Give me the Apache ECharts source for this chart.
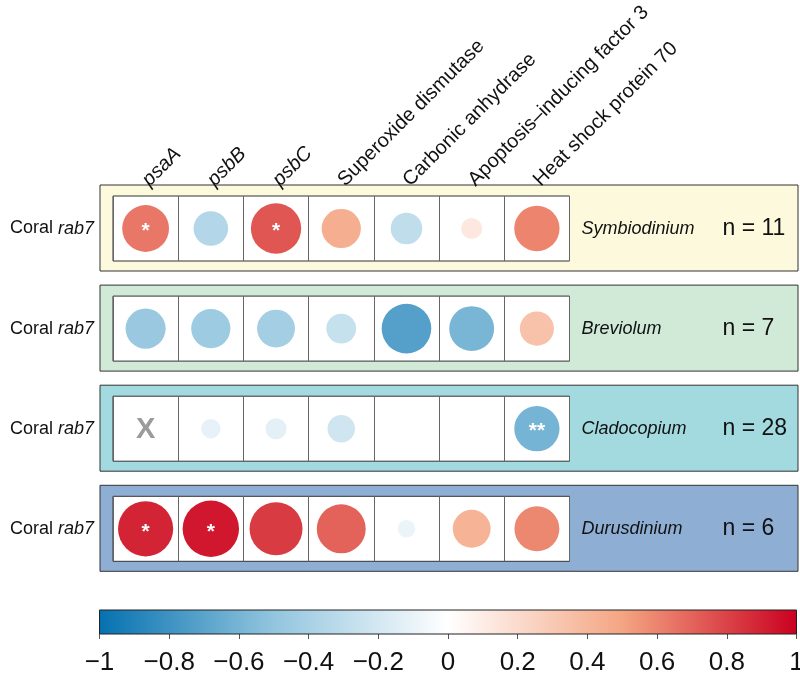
<!DOCTYPE html>
<html>
<head>
<meta charset="utf-8">
<script src="https://cdn.jsdelivr.net/npm/echarts@6/dist/echarts.min.js"></script>
<style>
html,body{margin:0;padding:0;background:#fff;}
#chart{width:800px;height:674px;}
</style>
</head>
<body>
<div id="chart"></div>
<script>
// ---------- data ----------
const genes = ['psaA', 'psbB', 'psbC', 'Superoxide dismutase', 'Carbonic anhydrase', 'Apoptosis–inducing factor 3', 'Heat shock protein 70'];
const italicGenes = ['psaA', 'psbB', 'psbC'];
const genera = ['Symbiodinium', 'Breviolum', 'Cladocopium', 'Durusdinium'];
const sampleSizes = [11, 7, 28, 6];
const rowLabel = 'rab7';
const symbiodiniumR = [0.64, -0.35, 0.74, 0.45, -0.29, 0.13, 0.60];
const breviolumR    = [-0.47, -0.45, -0.42, -0.26, -0.72, -0.59, 0.34];
const cladocopiumR  = [null, -0.11, -0.13, -0.22, -0.005, 0, -0.60];
const durusdiniumR  = [0.89, 0.93, 0.82, 0.70, -0.09, 0.42, 0.59];
const symbiodiniumSig = ['*', '', '*', '', '', '', ''];
const breviolumSig    = ['', '', '', '', '', '', ''];
const cladocopiumSig  = ['', '', '', '', '', '', '**'];
const durusdiniumSig  = ['*', '*', '', '', '', '', ''];
const colorbarTicks = [-1, -0.8, -0.6, -0.4, -0.2, 0, 0.2, 0.4, 0.6, 0.8, 1];

const panelValues = [symbiodiniumR, breviolumR, cladocopiumR, durusdiniumR];
const panelSig = [symbiodiniumSig, breviolumSig, cladocopiumSig, durusdiniumSig];

// ---------- style / layout ----------
const FONT = "'Liberation Sans', Arial, Helvetica, sans-serif";
const palette = ['#0571b0', '#92c5de', '#ffffff', '#f4a582', '#ca0020'];
const panelBg = ['#fdf9dc', '#d0ead7', '#a2dae0', '#8faed4'];
const W = 800;
const cellLeft = 113, cellRight = 569.5;
const panelTop0 = 196, panelStep = 100.1, cellH = 65;
const boxLeft = 100, boxRight = 798;

const grids = [], xAxes = [], yAxes = [], series = [], graphics = [];

panelValues.forEach((vals, p) => {
  const top = panelTop0 + p * panelStep;
  grids.push({
    left: cellLeft, right: W - cellRight, top: top, height: cellH,
    outerBoundsMode: 'none', containLabel: false,
    show: true, backgroundColor: '#ffffff', borderColor: '#333', borderWidth: 1
  });
  graphics.push({
    type: 'rect', z: -10,
    shape: { x: boxLeft, y: top - 11, width: boxRight - boxLeft, height: cellH + 21 },
    style: { fill: panelBg[p], stroke: '#333', lineWidth: 1 }
  });
  xAxes.push({
    type: 'category', gridIndex: p, data: genes, position: 'top',
    axisLine: { show: false }, axisTick: { show: false },
    splitLine: { show: true, interval: 0, lineStyle: { color: '#666', width: 1 } },
    axisLabel: p === 0 ? {
      show: true, interval: 0, rotate: -45, margin: 13, align: 'left', verticalAlign: 'middle',
      fontFamily: FONT, fontSize: 20, color: '#111',
      formatter: (v) => italicGenes.includes(v) ? '{it|' + v + '}' : v,
      rich: { it: { fontStyle: 'italic', fontFamily: FONT, fontSize: 20, color: '#111' } }
    } : { show: false }
  });
  yAxes.push({
    type: 'category', gridIndex: p, data: [rowLabel], position: 'left',
    axisLine: { show: false }, axisTick: { show: false }, splitLine: { show: false },
    axisLabel: {
      margin: 19, fontFamily: FONT, fontSize: 18, color: '#111',
      formatter: (v) => 'Coral {it|' + v + '}',
      rich: { it: { fontStyle: 'italic', fontFamily: FONT, fontSize: 18, color: '#111' } }
    }
  });
  series.push({
    type: 'custom', xAxisIndex: p, yAxisIndex: p, coordinateSystem: 'cartesian2d',
    data: vals.map((v, i) => [i, 0, v == null ? 0 : v]),
    renderItem: (params, api) => {
      const col = api.value(0);
      const v = vals[col];
      const c = api.coord([col, 0]);
      const s = api.size([1, 1]);
      const cell = Math.min(s[0], s[1]);
      const children = [];
      if (v == null) {
        children.push({ type: 'text', style: { text: 'X', x: c[0], y: c[1] + 1, fill: '#9b9b9b',
          font: 'bold 29px ' + FONT, align: 'center', verticalAlign: 'middle' } });
      } else {
        children.push({ type: 'circle', shape: { cx: c[0], cy: c[1], r: 0.45 * cell * Math.sqrt(Math.abs(v)) },
          style: { fill: api.visual('color') } });
      }
      const sg = panelSig[p][col];
      if (sg) {
        children.push({ type: 'text', style: { text: sg, x: c[0], y: c[1] + 3, fill: '#ffffff',
          font: 'bold 21px ' + FONT, align: 'center', verticalAlign: 'middle' } });
      }
      return { type: 'group', children };
    }
  });
});

// right-side labels (genus + n)
panelValues.forEach((vals, p) => {
  yAxes.push({
    type: 'category', gridIndex: p, data: [genera[p]], position: 'right',
    axisLine: { show: false }, axisTick: { show: false }, splitLine: { show: false },
    axisLabel: {
      margin: 12, align: 'left',
      formatter: (v) => '{g|' + v + '}{n|n = ' + sampleSizes[p] + '}',
      rich: {
        g: { fontStyle: 'italic', fontFamily: FONT, fontSize: 18, color: '#111', width: 141 },
        n: { fontFamily: FONT, fontSize: 23, color: '#111' }
      }
    }
  });
});

// colorbar
const cbGrid = grids.length;
grids.push({ left: 99.5, right: W - 796.5, top: 610, height: 24, outerBoundsMode: 'none', containLabel: false });
xAxes.push({
  type: 'value', gridIndex: cbGrid, min: colorbarTicks[0], max: colorbarTicks[colorbarTicks.length - 1],
  interval: 0.2, position: 'bottom',
  axisLine: { show: false },
  axisTick: { show: true, length: 5, lineStyle: { color: '#555', width: 1 } },
  splitLine: { show: false },
  axisLabel: {
    margin: 16, fontFamily: FONT, fontSize: 26, color: '#111',
    formatter: (v) => String(Math.round(v * 10) / 10).replace('-', '−')
  }
});
const cbY = yAxes.length;
yAxes.push({ type: 'value', gridIndex: cbGrid, min: 0, max: 1, show: false });
series.push({
  type: 'custom', xAxisIndex: cbGrid, yAxisIndex: cbY, coordinateSystem: 'cartesian2d',
  data: [[colorbarTicks[0], colorbarTicks[colorbarTicks.length - 1]]],
  renderItem: (params, api) => {
    const p0 = api.coord([api.value(0), 1]);
    const p1 = api.coord([api.value(1), 0]);
    return {
      type: 'rect',
      shape: { x: p0[0], y: p0[1], width: p1[0] - p0[0], height: p1[1] - p0[1] },
      style: {
        fill: new echarts.graphic.LinearGradient(0, 0, 1, 0,
          palette.map((c, i) => ({ offset: i / (palette.length - 1), color: c }))),
        stroke: '#222', lineWidth: 1
      }
    };
  }
});

const chart = echarts.init(document.getElementById('chart'), null, { renderer: 'canvas' });
chart.setOption({
  animation: false,
  backgroundColor: '#ffffff',
  textStyle: { fontFamily: FONT },
  graphic: { elements: graphics },
  grid: grids,
  xAxis: xAxes,
  yAxis: yAxes,
  visualMap: {
    type: 'continuous', show: false, min: -1, max: 1, dimension: 2,
    seriesIndex: [0, 1, 2, 3], inRange: { color: palette }
  },
  series: series
});
</script>
</body>
</html>
